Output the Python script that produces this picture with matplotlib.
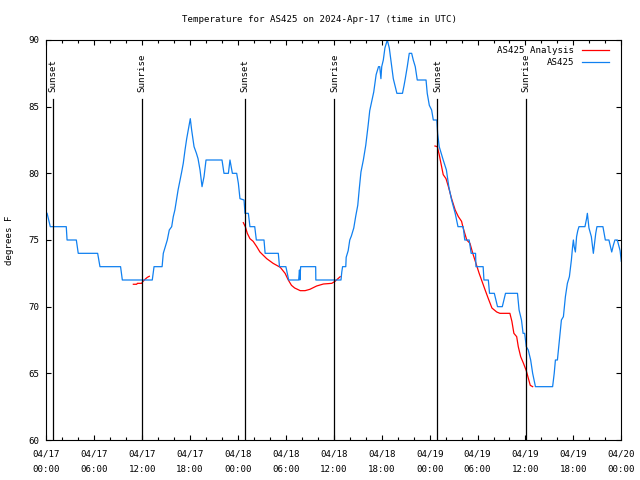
import matplotlib
matplotlib.use('Agg')
from matplotlib import pyplot as plt
from matplotlib.ticker import MultipleLocator

plt.rcParams['font.family'] = 'DejaVu Sans Mono'
font_size = 6.6

# Hours since 2024-04-17 00:00 UTC
station_hours = [
    0.1, 0.3, 0.5, 2.5, 2.6, 3.76, 4.0, 6.43, 6.72, 9.3, 9.52, 13.27, 13.49,
    14.5, 14.65, 14.9, 15.15, 15.4, 15.7, 15.9, 16.1, 16.3, 16.5, 16.95, 17.15,
    17.37, 17.58, 17.78, 18.03, 18.2, 18.5, 18.8, 19.0, 19.25, 19.4, 19.5,
    19.75, 19.9, 20.0, 22.0, 22.25, 22.8, 23.0, 23.15, 23.3, 23.84, 24.05,
    24.25, 24.76, 24.88, 25.3, 25.5, 26.1, 26.3, 27.26, 27.4, 29.05, 29.2,
    30.0, 30.35, 31.6, 31.7, 31.75, 31.85, 33.73, 33.75, 36.9, 37.0, 37.1,
    37.5, 37.55, 37.8, 38.0, 38.2, 38.5, 38.75, 39.0, 39.2, 39.4, 39.7, 40.0,
    40.3, 40.5, 40.75, 41.0, 41.3, 41.6, 41.75, 41.9, 42.0, 42.2, 42.4, 42.7,
    42.95, 43.25, 43.45, 43.7, 43.9, 44.6, 44.8, 44.95, 45.2, 45.45, 45.75,
    45.95, 46.2, 46.45, 47.55, 47.7, 47.96, 48.25, 48.46, 48.9, 49.0, 49.2,
    49.45, 49.7, 50.1, 50.4, 50.75, 51.2, 51.55, 52.2, 52.4, 52.95, 53.2,
    53.75, 53.8, 54.7, 54.8, 55.35, 55.5, 56.1, 56.3, 56.5, 57.1, 57.3, 57.5,
    59.0, 59.2, 59.5, 59.7, 59.9, 60.1, 60.35, 60.65, 60.9, 61.25, 63.4,
    63.6, 63.75, 64.0, 64.25, 64.5, 64.75, 65.0, 65.25, 65.5, 65.75, 65.9,
    66.0, 66.1, 66.25, 66.4, 66.55, 66.7, 67.45, 67.65, 67.75, 67.95, 68.25,
    68.5, 68.6, 68.8, 68.95, 69.7, 70.0, 70.45, 70.8, 71.0, 71.2, 71.5,
    71.85, 72.0]
station_temps = [
    77, 76.5, 76, 76, 75, 75, 74, 74, 73, 73, 72, 72, 73,
    73, 74, 74.5, 75, 75.75, 76, 76.75, 77.25, 78, 78.75, 80.1, 80.75,
    81.75, 82.6, 83.25, 84.1, 83.25, 82, 81.5, 81.1, 80.25, 79.5, 79,
    79.75, 80.5, 81, 81, 80, 80, 81, 80.5, 80, 80, 79.25,
    78.1, 78, 77, 77, 76, 76, 75, 75, 74, 74, 73,
    73, 72, 72, 72.75, 72, 73, 73, 72, 72, 72.6, 73,
    73, 73.7, 74.2, 75, 75.3, 75.9, 76.8, 77.6, 78.9, 80.1, 81, 82.1,
    83.6, 84.7, 85.4, 86.1, 87.4, 88, 88, 87.1, 88, 88.5, 89.4, 90,
    89.4, 88, 87.1, 86.5, 86, 86, 86.6, 87.1, 88, 89, 89,
    88.5, 88, 87, 87, 86, 85.1, 84.75, 84, 84, 83, 82,
    81.5, 81, 80.25, 79, 78, 77, 76, 76, 75, 75, 74,
    74, 73, 73, 72, 72, 71, 71, 70.5, 70, 70, 70.5, 71,
    71, 69.75, 69, 68, 68, 67, 66.75, 66, 65, 64, 64,
    65, 66, 66, 67.5, 69, 69.25, 70.75, 71.75, 72.25, 73.5, 74.5,
    75, 74.5, 74.1, 75.25, 75.7, 76, 76, 76.6, 77, 75.9, 75.25,
    74, 74.5, 75.5, 76, 76, 75, 75, 74.1, 74.6, 75, 75,
    74.2, 73.4]

# Analysis fits (three separate segments)
analysis_hours = [
    [10.9, 11.32, 11.4, 11.95, 12.07, 12.36, 12.65, 12.9],
    [24.67, 24.92, 25.17, 25.5, 25.9, 26.35, 26.75, 27.6, 28.4, 29.3, 29.9,
     30.3, 30.7, 31.1, 31.8, 32.4, 33.0, 33.85, 34.7, 35.75, 36.15, 36.8],
    [48.67, 48.96, 49.2, 49.5, 49.7, 50.05, 50.35, 50.75, 51.2, 51.6, 52.0,
     52.2, 52.65, 53.05, 53.4, 53.8, 54.2, 54.65, 54.95, 55.35, 55.8, 56.4,
     56.8, 58.05, 58.3, 58.55, 58.9, 59.1, 59.4, 59.75, 60.1, 60.6, 60.9],
]
analysis_temps = [
    [71.68, 71.68, 71.75, 71.75, 71.87, 72.05, 72.2, 72.28],
    [76.3, 76, 75.5, 75.1, 74.9, 74.5, 74.1, 73.6, 73.25, 72.95, 72.5,
     72, 71.6, 71.4, 71.2, 71.2, 71.3, 71.55, 71.7, 71.75, 71.9, 72.25],
    [82.05, 82, 81.4, 80.5, 79.9, 79.6, 79, 78.1, 77.25, 76.75, 76.4,
     75.9, 75, 74.75, 74, 73.25, 72.5, 71.75, 71.25, 70.6, 69.9, 69.6,
     69.5, 69.5, 68.9, 68, 67.75, 67, 66.25, 65.75, 65.2, 64.1, 64],
]

sun_hours = [0.88, 12.02, 24.92, 36.08, 48.98, 60.03]
sun_labels = ['Sunset', 'Sunrise', 'Sunset', 'Sunrise', 'Sunset', 'Sunrise']

tick_hours = list(range(0, 73, 6))
tick_labels = ['04/17\n00:00', '04/17\n06:00', '04/17\n12:00', '04/17\n18:00',
               '04/18\n00:00', '04/18\n06:00', '04/18\n12:00', '04/18\n18:00',
               '04/19\n00:00', '04/19\n06:00', '04/19\n12:00', '04/19\n18:00',
               '04/20\n00:00']

fig = plt.figure(figsize=(6.4, 4.8), dpi=100)
ax = fig.add_axes([46.3 / 640, 40 / 480, 575 / 640, 400 / 480])

red = '#ff0000'
blue = '#1080f0'
for i, (h, t) in enumerate(zip(analysis_hours, analysis_temps)):
    ax.plot(h, t, color=red, lw=0.9,
            label='AS425 Analysis' if i == 0 else None)
ax.plot(station_hours, station_temps, color=blue, lw=0.9, label='AS425')

# Sunrise / sunset markers
for h, lab in zip(sun_hours, sun_labels):
    ax.plot([h, h], [60, 85.57], color='black', lw=0.9)
    ax.text(h, 86.1, lab, rotation=90, ha='center', va='bottom',
            fontsize=font_size)

ax.set_xlim(0, 72)
ax.set_ylim(60, 90)
ax.set_xticks(tick_hours)
ax.set_xticklabels(tick_labels, fontsize=font_size, linespacing=2.0)
ax.xaxis.set_minor_locator(MultipleLocator(2))
ax.set_yticks(range(60, 91, 5))
ax.set_yticklabels([str(v) for v in range(60, 91, 5)], fontsize=font_size)
ax.tick_params(which='both', direction='in', top=True, right=True,
               width=0.8)
ax.tick_params(which='major', length=3.6, pad=5)
ax.tick_params(axis='x', which='major', pad=6.5)
ax.tick_params(which='minor', length=2.5)
for s in ax.spines.values():
    s.set_linewidth(0.8)

leg = ax.legend(loc='upper right', bbox_to_anchor=(609 / 640, 1 - 46 / 480),
                bbox_transform=fig.transFigure, frameon=False,
                markerfirst=False, fontsize=font_size, handlelength=3.0,
                handletextpad=0.8, labelspacing=0.35, borderpad=0,
                borderaxespad=0)

fig.text(0.5, 1 - 20 / 480, 'Temperature for AS425 on 2024-Apr-17 (time in UTC)',
         ha='center', va='center', fontsize=font_size)
fig.text(10 / 640, 0.5, 'degrees F', rotation=90, ha='center', va='center',
         fontsize=font_size)

fig.savefig('out.png', dpi=100)
